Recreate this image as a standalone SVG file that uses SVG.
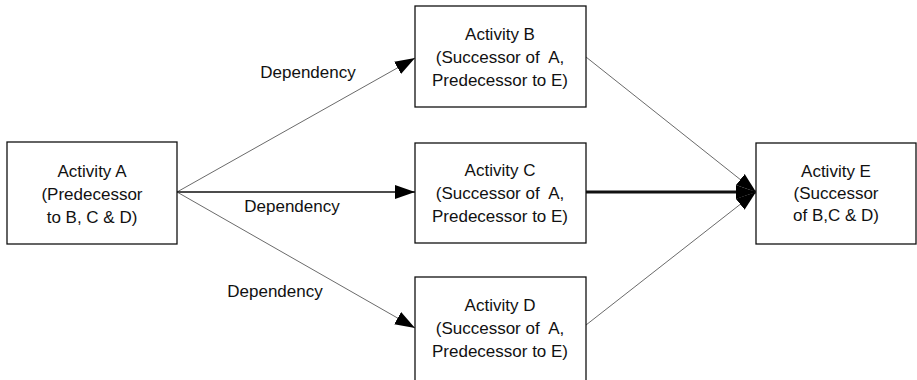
<svg xmlns="http://www.w3.org/2000/svg" width="917" height="380" viewBox="0 0 917 380">
<style>
.box{fill:#fff;stroke:#111;stroke-width:1.3}
.t{font-family:"Liberation Sans",Arial,sans-serif;font-size:17px;fill:#111;text-anchor:middle;white-space:pre}
.thin{stroke:#444;stroke-width:0.8;fill:none}
.mid{stroke:#111;stroke-width:1.6;fill:none}
.thick{stroke:#111;stroke-width:3;fill:none}
</style>
<defs>
<marker id="ah" markerUnits="userSpaceOnUse" markerWidth="22" markerHeight="16" refX="20" refY="8" orient="auto">
<path d="M0,1 L20,8 L0,15 Z" fill="#000"/>
</marker>
</defs>
<rect width="917" height="380" fill="#fff"/>
<g id="connectors">
<line class="thin" x1="177" y1="192" x2="415" y2="58" marker-end="url(#ah)"/>
<line class="mid" x1="177" y1="192" x2="415" y2="192" marker-end="url(#ah)"/>
<line class="thin" x1="177" y1="192" x2="415" y2="328" marker-end="url(#ah)"/>
<line class="thin" x1="586" y1="57" x2="756" y2="192" marker-end="url(#ah)"/>
<line class="thick" x1="586" y1="192" x2="756" y2="192" marker-end="url(#ah)"/>
<line class="thin" x1="586" y1="325" x2="756" y2="192" marker-end="url(#ah)"/>
<text class="t" x="308" y="78">Dependency</text>
<text class="t" x="292" y="212">Dependency</text>
<text class="t" x="275" y="297">Dependency</text>
</g>
<g id="nodeA">
<rect class="box" x="7" y="142" width="170" height="102"/>
<text class="t" x="92" y="177">Activity A</text>
<text class="t" x="92" y="200">(Predecessor</text>
<text class="t" x="92" y="223">to B, C &amp; D)</text>
</g>
<g id="nodeB">
<rect class="box" x="415" y="6" width="171" height="101"/>
<text class="t" x="500" y="40">Activity B</text>
<text class="t" x="500" y="63">(Successor of  A,</text>
<text class="t" x="500" y="86">Predecessor to E)</text>
</g>
<g id="nodeC">
<rect class="box" x="415" y="143" width="171" height="100"/>
<text class="t" x="500" y="176">Activity C</text>
<text class="t" x="500" y="199">(Successor of  A,</text>
<text class="t" x="500" y="222">Predecessor to E)</text>
</g>
<g id="nodeD">
<rect class="box" x="415" y="277" width="171" height="110"/>
<text class="t" x="500" y="311">Activity D</text>
<text class="t" x="500" y="334">(Successor of  A,</text>
<text class="t" x="500" y="357">Predecessor to E)</text>
</g>
<g id="nodeE">
<rect class="box" x="756" y="143" width="160" height="101"/>
<text class="t" x="836" y="177">Activity E</text>
<text class="t" x="836" y="199">(Successor</text>
<text class="t" x="836" y="221">of B,C &amp; D)</text>
</g>
</svg>
